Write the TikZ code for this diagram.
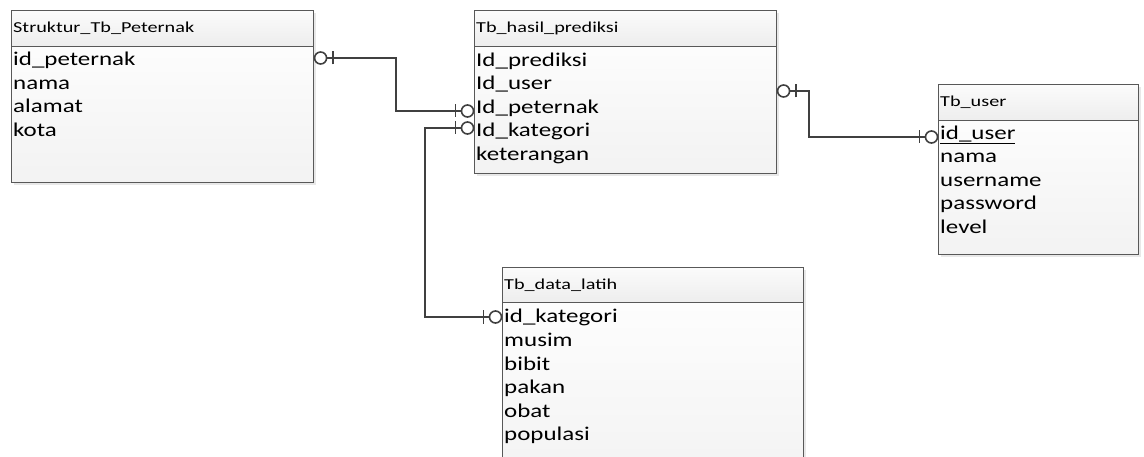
\documentclass[tikz,border=0pt]{standalone}
\usepackage{fontspec}
\setmainfont{Carlito}
\usetikzlibrary{shadows}
\definecolor{edgec}{HTML}{585858}
\definecolor{connc}{HTML}{404040}
\newcommand\wt[1]{\scalebox{1.28}[1]{#1}}
\newcommand\wtt[1]{\scalebox{1.33}[1]{#1}}
\tikzset{
  bodybox/.style={draw=edgec, line width=1.1pt, top color=white, bottom color=gray!10,
    anchor=north west, inner sep=0pt,
    drop shadow={shadow xshift=2.5pt, shadow yshift=-2.5pt, opacity=0.18}},
  hdrbox/.style={draw=edgec, line width=1.1pt, top color=gray!3, bottom color=gray!14,
    anchor=north west, inner sep=0pt},
  rowtxt/.style={anchor=base west, inner sep=0pt, font=\fontsize{19.5}{20}\selectfont},
  ttltxt/.style={anchor=base west, inner sep=0pt, font=\fontsize{15.2}{16}\selectfont},
  conn/.style={draw=connc, line width=2.2pt},
  zo/.pic={
    \draw[draw=connc, line width=1.8pt] (-18.5,-6.5) -- (-18.5,6.5);
    \draw[draw=connc, line width=1.6pt, fill=white] (-6.5,0) circle[radius=6];
  }
}
\begin{document}
\begin{tikzpicture}[x=1pt,y=-1pt]
\useasboundingbox (0,0) rectangle (1144,457);
\clip (0,0) rectangle (1144,457);
\fill[white] (0,0) rectangle (1144,457);

% Struktur_Tb_Peternak
\node[bodybox, minimum width=302pt, minimum height=172pt] (peternak) at (11,10) {};
\node[hdrbox, minimum width=302pt, minimum height=36pt] (peternakh) at (11,10) {};
\node[ttltxt] (pt) at (13,33) {\wtt{Struktur\_Tb\_Peternak}};
\node[rowtxt] (p1) at (13,66) {\wt{id\_peternak}};
\node[rowtxt] (p2) at (13,89.5) {\wt{nama}};
\node[rowtxt] (p3) at (13,113) {\wt{alamat}};
\node[rowtxt] (p4) at (13,136.5) {\wt{kota}};

% Tb_hasil_prediksi
\node[bodybox, minimum width=302pt, minimum height=163pt] (hasil) at (474,10) {};
\node[hdrbox, minimum width=302pt, minimum height=36pt] (hasilh) at (474,10) {};
\node[ttltxt] (ht) at (476,33) {\wtt{Tb\_hasil\_prediksi}};
\node[rowtxt] (h1) at (476,66.5) {\wt{Id\_prediksi}};
\node[rowtxt] (h2) at (476,90) {\wt{Id\_user}};
\node[rowtxt] (h3) at (476,113.5) {\wt{Id\_peternak}};
\node[rowtxt] (h4) at (476,137) {\wt{Id\_kategori}};
\node[rowtxt] (h5) at (476,160.5) {\wt{keterangan}};

% Tb_user
\node[bodybox, minimum width=200pt, minimum height=170pt] (user) at (938,84) {};
\node[hdrbox, minimum width=200pt, minimum height=36pt] (userh) at (938,84) {};
\node[ttltxt] (ut) at (940,107) {\wtt{Tb\_user}};
\node[rowtxt] (u1) at (940,139.5) {\wt{\underline{id\_user}}};
\node[rowtxt] (u2) at (940,163) {\wt{nama}};
\node[rowtxt] (u3) at (940,186.5) {\wt{username}};
\node[rowtxt] (u4) at (940,210) {\wt{password}};
\node[rowtxt] (u5) at (940,233.5) {\wt{level}};

% Tb_data_latih
\node[bodybox, minimum width=301pt, minimum height=220pt] (latih) at (502,267) {};
\node[hdrbox, minimum width=301pt, minimum height=35pt] (latihh) at (502,267) {};
\node[ttltxt] (lt) at (504,290) {\wtt{Tb\_data\_latih}};
\node[rowtxt] (l1) at (504,323) {\wt{id\_kategori}};
\node[rowtxt] (l2) at (504,346.5) {\wt{musim}};
\node[rowtxt] (l3) at (504,370) {\wt{bibit}};
\node[rowtxt] (l4) at (504,393.5) {\wt{pakan}};
\node[rowtxt] (l5) at (504,417) {\wt{obat}};
\node[rowtxt] (l6) at (504,440.5) {\wt{populasi}};

% connectors
\draw[conn] (peternak.east |- 0,58) -| (396,111) -- (hasil.west |- 0,111);
\draw[conn] (hasil.west |- 0,128) -| (425,317) -- (latih.west |- 0,317);
\draw[conn] (hasil.east |- 0,91) -| (809,137) -- (user.west |- 0,137);

\pic[rotate=180] at (peternak.east |- 0,58) {zo};
\pic at (hasil.west |- 0,111) {zo};
\pic at (hasil.west |- 0,128) {zo};
\pic at (latih.west |- 0,317) {zo};
\pic[rotate=180] at (hasil.east |- 0,91) {zo};
\pic at (user.west |- 0,137) {zo};
\end{tikzpicture}
\end{document}
